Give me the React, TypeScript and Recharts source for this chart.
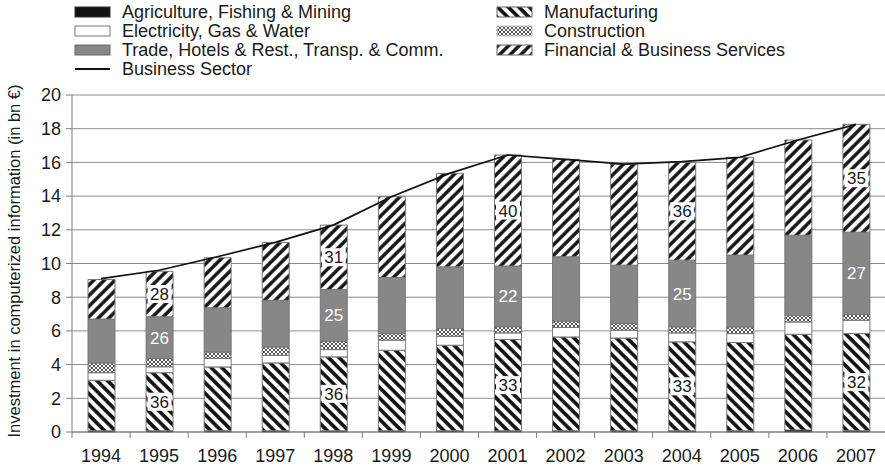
import React from 'react';
import {
  ComposedChart,
  Bar,
  Line,
  XAxis,
  YAxis,
  CartesianGrid,
  LabelList,
  Label,
} from 'recharts';

// Investment in computerized information by sector, bn €
const years = ['1994', '1995', '1996', '1997', '1998', '1999', '2000', '2001', '2002', '2003', '2004', '2005', '2006', '2007'];
const agriculture = [0.07, 0.07, 0.07, 0.07, 0.07, 0.07, 0.07, 0.07, 0.07, 0.07, 0.07, 0.07, 0.12, 0.08];
const manufacturing = [3.0, 3.45, 3.79, 4.03, 4.39, 4.78, 5.08, 5.42, 5.57, 5.51, 5.28, 5.24, 5.68, 5.76];
const electricity = [0.45, 0.35, 0.5, 0.45, 0.43, 0.6, 0.53, 0.39, 0.56, 0.46, 0.53, 0.53, 0.73, 0.79];
const construction = [0.58, 0.5, 0.39, 0.5, 0.5, 0.39, 0.46, 0.37, 0.39, 0.4, 0.36, 0.4, 0.4, 0.35];
const trade = [2.6, 2.47, 2.62, 2.77, 3.07, 3.33, 3.66, 3.6, 3.81, 3.46, 3.96, 4.26, 4.75, 4.88];
const financial = [2.35, 2.7, 2.97, 3.43, 3.82, 4.79, 5.55, 6.59, 5.78, 6.0, 5.8, 5.8, 5.65, 6.4];
const businessSector = [9.1, 9.6, 10.4, 11.25, 12.28, 13.96, 15.35, 16.44, 16.18, 15.9, 16.05, 16.3, 17.33, 18.26];
// years whose bars carry percentage shares
const labelledYears = ['1995', '1998', '2001', '2004', '2007'];
const yTicks = [0, 2, 4, 6, 8, 10, 12, 14, 16, 18, 20];

const W = 885;
const H = 468;
const PLOT_LEFT = 72;
const PLOT_TOP = 95;
const X_AXIS_H = 36;
const BAND = (W - PLOT_LEFT) / years.length;
const FONT = '"Liberation Sans", Arial, Helvetica, sans-serif';
const TEXT = '#1a1a1a';
const AXIS = '#7f7f7f';
const TRADE_FILL = '#878787';

const share = (part: number, total: number) => Math.round((part / total) * 100);

const rows = years.map((year, i) => {
  const total =
    agriculture[i] + manufacturing[i] + electricity[i] + construction[i] + trade[i] + financial[i];
  const shown = labelledYears.includes(year);
  return {
    year,
    agriculture: agriculture[i],
    manufacturing: manufacturing[i],
    electricity: electricity[i],
    construction: construction[i],
    trade: trade[i],
    financial: financial[i],
    business: businessSector[i],
    manufShare: shown ? share(manufacturing[i], total) : null,
    tradeShare: shown ? share(trade[i], total) : null,
    finShare: shown ? share(financial[i], total) : null,
  };
});

const Patterns = ({ prefix }: { prefix: string }) => (
  <defs>
    <pattern id={`${prefix}manuf`} patternUnits="userSpaceOnUse" width="7.5" height="7.5" patternTransform="rotate(-45)">
      <rect width="7.5" height="7.5" fill="#fff" />
      <line x1="1.9" y1="0" x2="1.9" y2="7.5" stroke="#111" strokeWidth="3.6" />
    </pattern>
    <pattern id={`${prefix}fin`} patternUnits="userSpaceOnUse" width="7.5" height="7.5" patternTransform="rotate(45)">
      <rect width="7.5" height="7.5" fill="#fff" />
      <line x1="1.9" y1="0" x2="1.9" y2="7.5" stroke="#111" strokeWidth="3.4" />
    </pattern>
    <pattern id={`${prefix}constr`} patternUnits="userSpaceOnUse" width="4" height="4">
      <rect width="4" height="4" fill="#fff" />
      <path d="M0,0 L4,4 M4,0 L0,4" stroke="#555" strokeWidth="1" />
    </pattern>
  </defs>
);

// Category tick: label at the band centre, tick mark on the band boundary
const XTick = (props: any) => {
  const { x, y, payload } = props;
  const bx = x - BAND / 2;
  return (
    <g>
      <line x1={bx} x2={bx} y1={y} y2={y + 6} stroke={AXIS} strokeWidth={1} />
      <text x={x} y={y + 30} textAnchor="middle" fontSize={18} fill={TEXT} fontFamily={FONT}>
        {payload.value}
      </text>
    </g>
  );
};

const boxedLabel = (props: any) => {
  const { value } = props;
  if (value === null || value === undefined) return null;
  const vb = props.viewBox || props;
  const cx = vb.x + vb.width / 2;
  const cy = vb.y + vb.height / 2;
  return (
    <g>
      <rect x={cx - 12} y={cy - 9} width={24} height={18} fill="#fff" />
      <text x={cx} y={cy} dy="0.36em" textAnchor="middle" fontSize={17} fill={TEXT} fontFamily={FONT}>
        {value}
      </text>
    </g>
  );
};

const plainLabel = (props: any) => {
  const { value } = props;
  if (value === null || value === undefined) return null;
  const vb = props.viewBox || props;
  const cx = vb.x + vb.width / 2;
  const cy = vb.y + vb.height / 2;
  return (
    <text x={cx} y={cy} dy="0.36em" textAnchor="middle" fontSize={17} fill="#fff" fontFamily={FONT}>
      {value}
    </text>
  );
};

const legendItems = [
  { name: 'Agriculture, Fishing & Mining', col: 0, row: 0, kind: 'box', fill: '#111', stroke: '#333' },
  { name: 'Manufacturing', col: 1, row: 0, kind: 'box', fill: 'url(#lg-manuf)', stroke: '#666' },
  { name: 'Electricity, Gas & Water', col: 0, row: 1, kind: 'box', fill: '#fff', stroke: '#777' },
  { name: 'Construction', col: 1, row: 1, kind: 'box', fill: 'url(#lg-constr)', stroke: '#bbb' },
  { name: 'Trade, Hotels & Rest., Transp. & Comm.', col: 0, row: 2, kind: 'box', fill: TRADE_FILL, stroke: '#666' },
  { name: 'Financial & Business Services', col: 1, row: 2, kind: 'box', fill: 'url(#lg-fin)', stroke: '#666' },
  { name: 'Business Sector', col: 0, row: 3, kind: 'line', fill: '#111', stroke: '#111' },
];

const LegendBlock = () => {
  const colX = [75, 497];
  const rowY = [12, 31, 50, 69];
  return (
    <g>
      <Patterns prefix="lg-" />
      {legendItems.map((it) => {
        const x = colX[it.col];
        const y = rowY[it.row];
        return (
          <g key={it.name}>
            {it.kind === 'box' ? (
              <rect x={x} y={y - 5} width={35} height={10} fill={it.fill} stroke={it.stroke} strokeWidth={1} />
            ) : (
              <line x1={x} x2={x + 35} y1={y} y2={y} stroke="#111" strokeWidth={2} />
            )}
            <text x={x + 47} y={y} dy="0.36em" fontSize={18} fill={TEXT} fontFamily={FONT}>
              {it.name}
            </text>
          </g>
        );
      })}
    </g>
  );
};

const YTitle = () => (
  <text
    transform={`translate(14, 261) rotate(-90)`}
    textAnchor="middle"
    dy="0.36em"
    fontSize={16.5}
    fill={TEXT}
    fontFamily={FONT}
  >
    Investment in computerized information (in bn €)
  </text>
);

export default function App() {
  return (
    <div style={{ position: 'absolute', left: 0, top: 0, width: W, height: H, background: '#fff' }}>
      <ComposedChart
        width={W}
        height={H}
        data={rows}
        margin={{ top: PLOT_TOP, right: 0, bottom: 0, left: 0 }}
        barSize={27}
        style={{ fontFamily: FONT }}
      >
        <Patterns prefix="ch-" />
        <CartesianGrid vertical={false} stroke="#8c8c8c" strokeWidth={1} />
        <XAxis
          dataKey="year"
          height={X_AXIS_H}
          stroke={AXIS}
          tickLine={false}
          tickSize={0}
          tickMargin={0}
          interval={0}
          tick={<XTick />}
        />
        <YAxis
          width={PLOT_LEFT}
          domain={[0, 20]}
          ticks={yTicks}
          interval={0}
          stroke={AXIS}
          tickSize={6}
          tickMargin={5}
          tick={{ fill: TEXT, fontSize: 18, fontFamily: FONT }}
        >
          <Label content={<YTitle />} />
        </YAxis>
        <Bar dataKey="agriculture" stackId="s" fill="#111" stroke="#444" strokeWidth={0.5} isAnimationActive={false} />
        <Bar dataKey="manufacturing" stackId="s" fill="url(#ch-manuf)" stroke="#777" strokeWidth={1} isAnimationActive={false}>
          <LabelList dataKey="manufShare" content={boxedLabel} />
        </Bar>
        <Bar dataKey="electricity" stackId="s" fill="#fff" stroke="#777" strokeWidth={1} isAnimationActive={false} />
        <Bar dataKey="construction" stackId="s" fill="url(#ch-constr)" stroke="#777" strokeWidth={1} isAnimationActive={false} />
        <Bar dataKey="trade" stackId="s" fill={TRADE_FILL} stroke="#777" strokeWidth={1} isAnimationActive={false}>
          <LabelList dataKey="tradeShare" content={plainLabel} />
        </Bar>
        <Bar dataKey="financial" stackId="s" fill="url(#ch-fin)" stroke="#777" strokeWidth={1} isAnimationActive={false}>
          <LabelList dataKey="finShare" content={boxedLabel} />
        </Bar>
        <Line
          dataKey="business"
          type="linear"
          stroke="#111"
          strokeWidth={1.7}
          dot={false}
          activeDot={false}
          isAnimationActive={false}
        />
        <LegendBlock />
      </ComposedChart>
    </div>
  );
}
